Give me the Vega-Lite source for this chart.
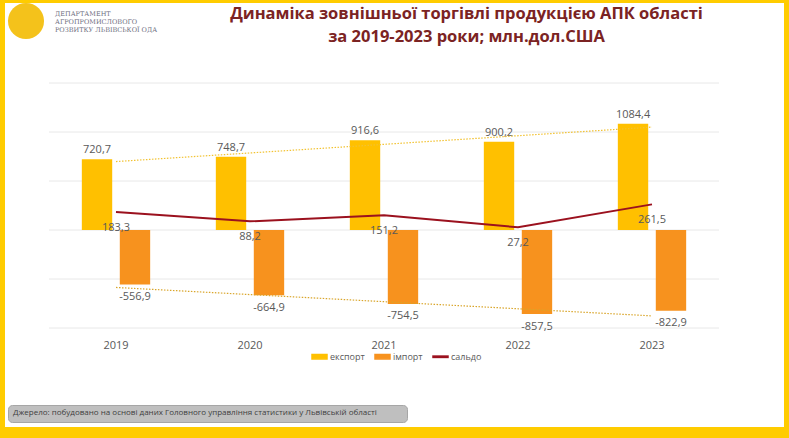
{
  "$schema": "https://vega.github.io/schema/vega-lite/v6.json",
  "width": 779,
  "height": 424,
  "autosize": {"type": "none"},
  "padding": {"left": 5, "top": 3, "right": 5, "bottom": 11},
  "background": "#FFCC00",
  "config": {
    "view": {"fill": "white", "stroke": null},
    "font": "Open Sans",
    "locale": {"number": {"decimal": ",", "thousands": " ", "grouping": [3], "currency": ["", ""], "minus": "-"}}
  },
  "title": {
    "text": ["Динаміка зовнішньої торгівлі продукцією АПК області", "за 2019-2023 роки; млн.дол.США"],
    "font": "Open Sans",
    "fontSize": 16.5,
    "fontWeight": "bold",
    "color": "#7B2323",
    "anchor": "middle",
    "lineHeight": 23,
    "offset": 0,
    "dx": 72,
    "dy": 43
  },
  "datasets": {
    "trade": [
      {"year": 2019, "type": "експорт", "value": 720.7},
      {"year": 2019, "type": "імпорт", "value": -556.9},
      {"year": 2020, "type": "експорт", "value": 748.7},
      {"year": 2020, "type": "імпорт", "value": -664.9},
      {"year": 2021, "type": "експорт", "value": 916.6},
      {"year": 2021, "type": "імпорт", "value": -754.5},
      {"year": 2022, "type": "експорт", "value": 900.2},
      {"year": 2022, "type": "імпорт", "value": -857.5},
      {"year": 2023, "type": "експорт", "value": 1084.4},
      {"year": 2023, "type": "імпорт", "value": -822.9}
    ],
    "saldo": [
      {"year": 2019, "type": "сальдо", "value": 183.3},
      {"year": 2020, "type": "сальдо", "value": 88.2},
      {"year": 2021, "type": "сальдо", "value": 151.2},
      {"year": 2022, "type": "сальдо", "value": 27.2},
      {"year": 2023, "type": "сальдо", "value": 261.5}
    ],
    "grid": [
      {"value": -1000}, {"value": -500}, {"value": 0}, {"value": 500}, {"value": 1000}, {"value": 1500}
    ]
  },
  "resolve": {"scale": {"x": "independent"}},
  "layer": [
    {
      "data": {"name": "grid"},
      "mark": {"type": "rule", "color": "#E8E8E8", "strokeWidth": 1},
      "encoding": {
        "y": {"field": "value", "type": "quantitative", "scale": {"domain": [-1000, 1500], "range": [325, 80]}, "axis": null},
        "x": {"datum": 0, "type": "quantitative", "scale": {"domain": [0, 1], "range": [44, 714]}, "axis": null},
        "x2": {"datum": 1}
      }
    },
    {
      "encoding": {
        "x": {
          "field": "year", "type": "ordinal",
          "scale": {"range": [44, 714], "paddingInner": 0.49, "paddingOuter": 0.245},
          "axis": {"title": null, "domain": false, "ticks": false, "grid": false, "labelPadding": 0, "offset": -88, "labelFontSize": 11, "labelColor": "#595959", "labelAngle": 0, "labelBaseline": "top"}
        },
        "y": {"field": "value", "type": "quantitative", "scale": {"domain": [-1000, 1500], "range": [325, 80]}, "axis": null}
      },
      "layer": [
        {
          "data": {"name": "trade"},
          "mark": {"type": "bar"},
          "encoding": {
            "xOffset": {"field": "type", "type": "nominal", "scale": {"domain": ["експорт", "імпорт"], "paddingInner": 0.2, "paddingOuter": 0}},
            "color": {
              "field": "type", "type": "nominal",
              "scale": {"domain": ["експорт", "імпорт", "сальдо"], "range": ["#FFC000", "#F7921E", "#9B111E"]},
              "legend": {
                "orient": "none", "legendX": 306, "legendY": 345, "direction": "horizontal",
                "title": null, "labelFontSize": 9, "labelColor": "#595959", "labelOffset": 2,
                "columnPadding": 7, "symbolSize": 225, "padding": 0,
                "encode": {"symbols": {"update": {
                  "shape": {"signal": "datum.value === 'сальдо' ? 'M-1,-0.09H1V0.09H-1Z' : 'M-1,-0.3H1V0.3H-1Z'"},
                  "fill": {"scale": "color", "field": "value"},
                  "stroke": {"value": "transparent"},
                  "opacity": {"value": 1}
                }}}
              }
            }
          }
        },
        {
          "data": {"name": "trade"},
          "transform": [{"filter": "datum.type === 'експорт'"}],
          "mark": {"type": "text", "baseline": "alphabetic", "dy": -6, "fontSize": 11, "color": "#595959"},
          "encoding": {
            "xOffset": {"field": "type", "type": "nominal"},
            "text": {"field": "value", "type": "quantitative", "format": ".1f"}
          }
        },
        {
          "data": {"name": "trade"},
          "transform": [{"filter": "datum.type === 'імпорт'"}],
          "mark": {"type": "text", "baseline": "alphabetic", "dy": 15.5, "fontSize": 11, "color": "#595959"},
          "encoding": {
            "xOffset": {"field": "type", "type": "nominal"},
            "text": {"field": "value", "type": "quantitative", "format": ".1f"}
          }
        },
        {
          "data": {"name": "trade"},
          "transform": [{"filter": "datum.type === 'експорт'"}, {"regression": "value", "on": "year"}],
          "mark": {"type": "line", "color": "#F2C230", "strokeWidth": 1.2, "strokeDash": [1.5, 1.5]},
          "encoding": {}
        },
        {
          "data": {"name": "trade"},
          "transform": [{"filter": "datum.type === 'імпорт'"}, {"regression": "value", "on": "year"}],
          "mark": {"type": "line", "color": "#D9A52A", "strokeWidth": 1.2, "strokeDash": [1.5, 1.5]},
          "encoding": {}
        },
        {
          "data": {"name": "saldo"},
          "mark": {"type": "line", "strokeWidth": 2},
          "encoding": {"color": {"field": "type", "type": "nominal"}}
        },
        {
          "data": {"name": "saldo"},
          "mark": {"type": "text", "baseline": "alphabetic", "dy": 18.5, "fontSize": 11, "color": "#595959"},
          "encoding": {"text": {"field": "value", "type": "quantitative", "format": ".1f"}}
        },
        {
          "data": {"name": "saldo"},
          "mark": {"type": "point", "filled": true, "color": "#F4C21B", "opacity": 0},
          "encoding": {
            "shape": {
              "datum": "logo", "type": "nominal", "scale": {"range": ["circle"]},
              "legend": {
                "orient": "none", "legendX": 2, "legendY": -1, "padding": 0,
                "title": ["ДЕПАРТАМЕНТ", "АГРОПРОМИСЛОВОГО", "РОЗВИТКУ ЛЬВІВСЬКОЇ ОДА"],
                "titleOrient": "right", "titleFont": "DejaVu Serif", "titleFontSize": 6.5,
                "titleFontWeight": "normal", "titleColor": "#6E6E80", "titleLineHeight": 8,
                "titlePadding": 8, "labelExpr": "''", "labelOffset": 0, "symbolSize": 1300,
                "symbolFillColor": "#F4C21B", "symbolStrokeColor": "#E8A900", "symbolOpacity": 1,
                "encode": {"symbols": {"update": {
                  "fill": {"value": "#F4C21B"}, "stroke": {"value": "#E8A900"}, "strokeWidth": {"value": 1},
                  "opacity": {"value": 1}, "size": {"value": 1300}, "shape": {"value": "circle"}
                }}}
              }
            }
          }
        },
        {
          "data": {"name": "saldo"},
          "mark": {"type": "point", "filled": true, "color": "transparent", "opacity": 0},
          "encoding": {
            "size": {
              "datum": "src", "type": "ordinal", "scale": {"range": [4]},
              "legend": {
                "orient": "none", "legendX": 3, "legendY": 402, "padding": 5,
                "title": "Джерело: побудовано на основі даних Головного управління статистики у Львівській області",
                "titleOrient": "left", "titleFontSize": 8, "titleFontWeight": "normal", "titleColor": "#404040",
                "titlePadding": 25, "titleLimit": 1000, "labelExpr": "''", "labelOffset": 0,
                "fillColor": "#BFBFBF", "strokeColor": "#A6A6A6", "cornerRadius": 4,
                "symbolOpacity": 0, "symbolFillColor": "transparent", "symbolStrokeColor": "transparent",
                "encode": {"symbols": {"update": {"opacity": {"value": 0}, "fill": {"value": "transparent"}, "stroke": {"value": "transparent"}}}}
              }
            }
          }
        }
      ]
    }
  ]
}
